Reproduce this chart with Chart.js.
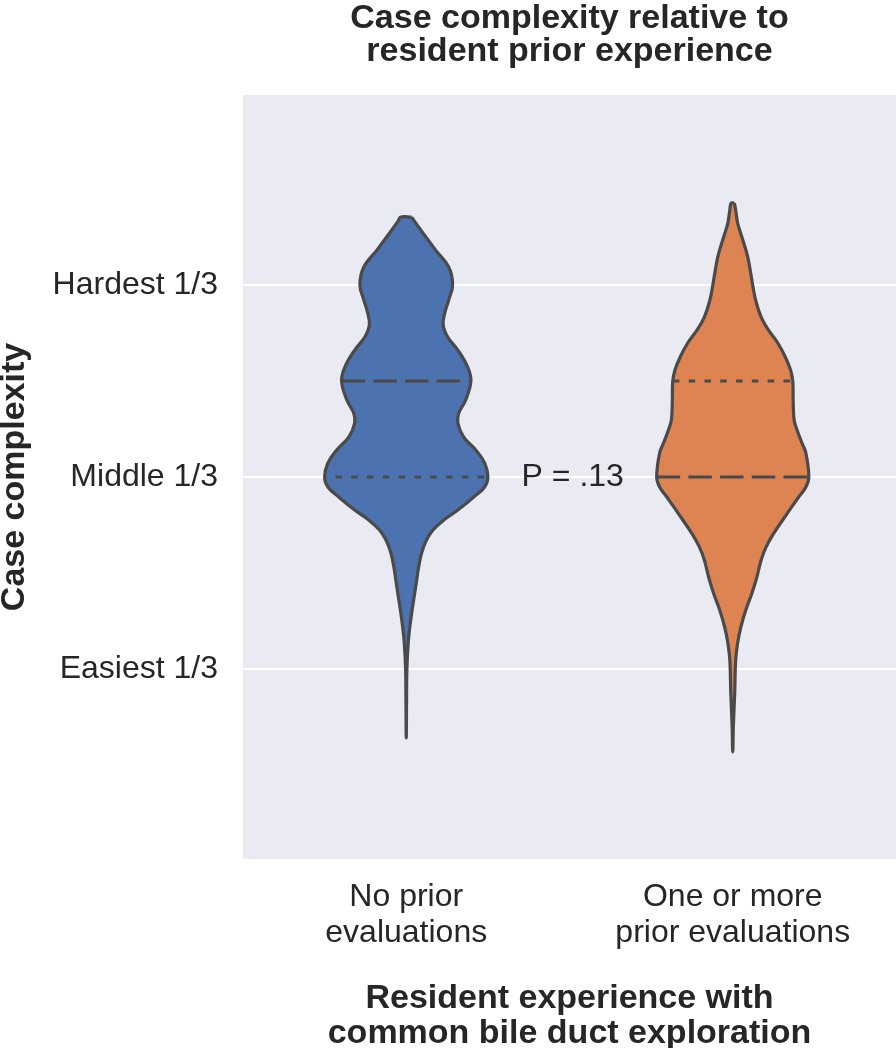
<!DOCTYPE html>
<html><head><meta charset="utf-8">
<script src="https://cdn.jsdelivr.net/npm/chart.js@4"></script>
<style>html,body{margin:0;padding:0;background:#fff}#wrap{width:896px;height:1048px}</style>
</head><body><div id="wrap"><canvas id="c" width="896" height="1048"></canvas></div>
<script>
// ---- data ----
const categories = [['No prior', 'evaluations'], ['One or more', 'prior evaluations']];
const categoryPositions = [0, 1];
const yTickValues = [1, 2, 3];
const yTickLabels = ['Easiest 1/3', 'Middle 1/3', 'Hardest 1/3'];
const titleLines = ['Case complexity relative to', 'resident prior experience'];
const xTitleLines = ['Resident experience with', 'common bile duct exploration'];
const yTitle = 'Case complexity';
const pLabel = 'P = .13';

// violin density profile: complexity levels and half widths (category units)
const noPriorLevels = [3.354, 3.333, 3.271, 3.182, 3.094, 3.000, 2.922, 2.854, 2.792, 2.729, 2.661, 2.573, 2.500, 2.401, 2.333, 2.281, 2.208, 2.141, 2.073, 2.000, 1.948, 1.896, 1.828, 1.776, 1.724, 1.672, 1.604, 1.531, 1.464, 1.396, 1.307, 1.219, 1.135, 1.000, 0.839, 0.641];
const noPriorHalfWidth = [0.017, 0.025, 0.051, 0.090, 0.130, 0.142, 0.130, 0.118, 0.113, 0.127, 0.158, 0.188, 0.198, 0.182, 0.161, 0.158, 0.176, 0.213, 0.240, 0.250, 0.240, 0.207, 0.158, 0.115, 0.082, 0.062, 0.047, 0.038, 0.032, 0.026, 0.018, 0.011, 0.006, 0.002, 0.001, 0];
const priorLevels = [3.427, 3.391, 3.323, 3.234, 3.146, 3.063, 3.000, 2.922, 2.833, 2.766, 2.698, 2.625, 2.557, 2.495, 2.401, 2.297, 2.245, 2.177, 2.125, 2.000, 1.948, 1.896, 1.776, 1.708, 1.635, 1.568, 1.479, 1.396, 1.307, 1.219, 1.135, 1.047, 0.875, 0.708, 0.568];
const priorHalfWidth = [0.005, 0.009, 0.015, 0.031, 0.046, 0.055, 0.061, 0.070, 0.087, 0.109, 0.138, 0.161, 0.177, 0.184, 0.185, 0.188, 0.197, 0.212, 0.224, 0.233, 0.224, 0.202, 0.153, 0.126, 0.102, 0.087, 0.074, 0.059, 0.040, 0.025, 0.015, 0.009, 0.006, 0.002, 0];

// inner lines (median dashed, quartile dotted)
const noPriorMedian = [2.5];
const noPriorQuartiles = [2.0];
const priorMedian = [2.0];
const priorQuartiles = [2.5];
const pPosition = [0.51, 2.0];

// ---- helpers ----
function violinPoints(center, levels, half) {
  const right = levels.map((y, i) => ({x: center + half[i], y}));
  const left = levels.map((y, i) => ({x: center - half[i], y})).reverse().slice(1);
  return right.concat(left, [right[0]]);
}
function widthAt(levels, half, y) {
  for (let i = 0; i < levels.length - 1; i++) {
    const a = levels[i], b = levels[i + 1];
    if ((y <= a && y >= b)) {
      const t = (a - y) / (a - b);
      return half[i] + t * (half[i + 1] - half[i]);
    }
  }
  return 0;
}
const LINE = '#4a4a4a';
function innerLine(center, levels, half, y, dash, offset) {
  const w = widthAt(levels, half, y);
  return {
    type: 'scatter', showLine: true, order: 1,
    data: [{x: center - w, y}, {x: center + w, y}],
    borderColor: LINE, borderWidth: 3.2, borderDash: dash, borderDashOffset: offset || 0,
    borderCapStyle: 'butt', pointRadius: 0, fill: false, tension: 0,
    xAxisID: 'x', yAxisID: 'y'
  };
}
const DASHED = [23.5, 8.2];
const DOTTED = [6.5, 9.3];

function violin(center, levels, half, color) {
  return {
    type: 'scatter', showLine: true, order: 2,
    data: violinPoints(center, levels, half),
    borderColor: LINE, borderWidth: 3.2, backgroundColor: color,
    fill: 'shape', tension: 0.4, pointRadius: 0, borderJoinStyle: 'round',
    xAxisID: 'x', yAxisID: 'y'
  };
}

const datasets = [
  violin(categoryPositions[0], noPriorLevels, noPriorHalfWidth, '#4C72B0'),
  violin(categoryPositions[1], priorLevels, priorHalfWidth, '#DD8452'),
  ...noPriorMedian.map(y => innerLine(categoryPositions[0], noPriorLevels, noPriorHalfWidth, y, DASHED)),
  ...noPriorQuartiles.map(y => innerLine(categoryPositions[0], noPriorLevels, noPriorHalfWidth, y, DOTTED, 5)),
  ...priorMedian.map(y => innerLine(categoryPositions[1], priorLevels, priorHalfWidth, y, DASHED)),
  ...priorQuartiles.map(y => innerLine(categoryPositions[1], priorLevels, priorHalfWidth, y, DOTTED))
];

const FONT = '"Liberation Sans", Arial, Helvetica, sans-serif';
const TEXT = '#262626';

const plotBg = {
  id: 'plotBg',
  beforeDraw(chart) {
    const {ctx, chartArea: a} = chart;
    ctx.save();
    ctx.fillStyle = '#EAEAF2';
    ctx.fillRect(a.left, a.top, a.right - a.left, a.bottom - a.top);
    ctx.restore();
  }
};
const pText = {
  id: 'pText',
  afterDatasetsDraw(chart) {
    const {ctx, scales} = chart;
    ctx.save();
    ctx.font = '32px ' + FONT;
    ctx.fillStyle = TEXT;
    ctx.textAlign = 'center';
    ctx.textBaseline = 'middle';
    ctx.fillText(pLabel, scales.x.getPixelForValue(pPosition[0]), scales.y.getPixelForValue(pPosition[1]));
    ctx.restore();
  }
};

new Chart(document.getElementById('c'), {
  type: 'scatter',
  data: {datasets},
  plugins: [plotBg, pText],
  options: {
    responsive: false, maintainAspectRatio: false, devicePixelRatio: 1,
    animation: false, events: [],
    layout: {padding: 0},
    plugins: {legend: {display: false}, tooltip: {enabled: false}, title: {display: false}},
    scales: {
      x: {
        type: 'linear', position: 'bottom', min: -0.5, max: 1.5,
        grid: {display: false}, border: {display: false},
        afterBuildTicks: s => { s.ticks = categoryPositions.map(v => ({value: v})); },
        ticks: {
          callback: (v, i) => categories[i],
          font: {family: FONT, size: 32, lineHeight: '36px'}, color: TEXT,
          padding: 12, maxRotation: 0, autoSkip: false
        },
        title: {
          display: true, text: xTitleLines, color: TEXT,
          font: {family: FONT, size: 34, weight: 'bold', lineHeight: '35px'},
          padding: {top: 0, bottom: -3}
        },
        afterFit: s => { s.height = 189; }
      },
      x2: {
        type: 'linear', position: 'top', display: true,
        grid: {display: false}, border: {display: false},
        ticks: {display: false},
        title: {
          display: true, text: titleLines, color: TEXT,
          font: {family: FONT, size: 34, weight: 'bold', lineHeight: '33px'},
          padding: {top: 2, bottom: 0}
        },
        afterFit: s => { s.height = 95; }
      },
      y: {
        type: 'linear', position: 'left', min: 0.01, max: 3.99,
        grid: {color: '#ffffff', lineWidth: 2, drawTicks: false}, border: {display: false},
        afterBuildTicks: s => { s.ticks = yTickValues.map(v => ({value: v})); },
        ticks: {
          callback: (v, i) => yTickLabels[i],
          font: {family: FONT, size: 32}, color: TEXT, padding: 25
        },
        title: {
          display: true, text: yTitle, color: TEXT,
          font: {family: FONT, size: 34, weight: 'bold', lineHeight: '34px'},
          padding: {top: -2, bottom: 0}
        },
        afterFit: s => { s.width = 243; }
      }
    }
  }
});
</script>
</body></html>
